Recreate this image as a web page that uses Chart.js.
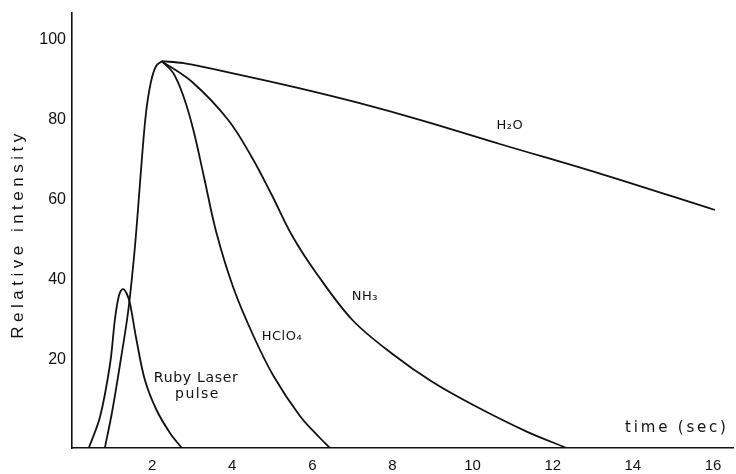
<!DOCTYPE html>
<html>
<head>
<meta charset="utf-8">
<script src="https://cdn.jsdelivr.net/npm/chart.js@4/dist/chart.umd.min.js"></script>
<style>
  html, body { margin: 0; padding: 0; background: #ffffff; }
  #wrap { width: 736px; height: 474px; }
</style>
</head>
<body>
<div id="wrap"><canvas id="c" width="736" height="474"></canvas></div>
<script>
// ---- data (time in sec, relative intensity) ----
const xTicks = [2, 4, 6, 8, 10, 12, 14, 16];
const yTicks = [20, 40, 60, 80, 100];

const rubyT = [0.42, 0.70, 0.95, 1.07, 1.17, 1.27, 1.37, 1.45, 1.61, 1.82, 2.11, 2.45, 2.74];
const rubyI = [0, 7.8, 21, 32, 38, 39.7, 38.5, 36, 27, 17, 9.5, 3.7, 0];

const riseT = [0.82, 1.00, 1.20, 1.40, 1.55, 1.65, 1.75, 1.85, 1.97, 2.10, 2.24];
const riseI = [0, 9, 21, 34, 48, 60, 73, 84, 91.5, 95.5, 96.7];

const h2oT = [2.24, 2.78, 4.19, 5.61, 7.11, 8.77, 10.68, 13.18, 16.05];
const h2oI = [96.7, 96.2, 93.3, 90.1, 86.4, 81.8, 76.0, 68.6, 59.5];

const hclo4T = [2.24, 2.53, 2.78, 3.03, 3.30, 3.60, 4.03, 4.53, 5.03, 5.69, 6.19, 6.44];
const hclo4I = [96.7, 93.7, 88, 79.5, 67.5, 54, 40, 28, 18, 8, 2.5, 0];

const nh3T = [2.24, 3.00, 3.90, 4.50, 5.00, 5.50, 6.10, 7.00, 8.00, 9.00, 10.10, 11.35, 12.35];
const nh3I = [96.7, 91.5, 82, 72.5, 63, 53, 43.7, 32, 23.5, 16.5, 10.3, 4.1, 0];

const labels = [
  { text: 'H\u2082O', t: 10.93, v: 80.5, size: 13, sp: 0.5 },
  { text: 'NH\u2083', t: 7.31, v: 37.8, size: 13, sp: 0.5 },
  { text: 'HClO\u2084', t: 5.24, v: 27.8, size: 13, sp: 0.5 },
  { text: 'Ruby Laser', t: 3.1, v: 17.5, size: 14, sp: 0.7 },
  { text: 'pulse', t: 3.13, v: 13.5, size: 14, sp: 1.4 },
  { text: 'time (sec)', t: 15.1, v: 5, size: 15, sp: 2.8 }
];

function pts(ts, vs) { return ts.map((t, i) => ({ x: t, y: vs[i] })); }

const FONT = '"DejaVu Sans", "Liberation Sans", Arial, sans-serif';
const TICKFONT = '"Liberation Sans", Arial, sans-serif';

const lineStyle = {
  borderColor: '#111111',
  borderWidth: 1.8,
  pointRadius: 0,
  fill: false,
  tension: 0.35
};

const annotate = {
  id: 'annotate',
  afterDatasetsDraw(chart) {
    const ctx = chart.ctx;
    const xs = chart.scales.x, ys = chart.scales.y;
    ctx.save();
    ctx.fillStyle = '#111111';
    ctx.textAlign = 'center';
    ctx.textBaseline = 'middle';
    labels.forEach(l => {
      ctx.font = l.size + 'px ' + FONT;
      ctx.letterSpacing = l.sp + 'px';
      ctx.fillText(l.text, xs.getPixelForValue(l.t), ys.getPixelForValue(l.v));
    });
    // y axis title
    ctx.translate(18, 234);
    ctx.rotate(-Math.PI / 2);
    ctx.font = '17px ' + TICKFONT;
    ctx.letterSpacing = '4.5px';
    ctx.fillText('Relative intensity', 0, 0);
    ctx.restore();
  }
};

new Chart(document.getElementById('c'), {
  type: 'line',
  data: {
    datasets: [
      Object.assign({ label: 'Ruby laser pulse', data: pts(rubyT, rubyI) }, lineStyle),
      Object.assign({ label: 'Rise', data: pts(riseT, riseI) }, lineStyle),
      Object.assign({ label: 'H2O', data: pts(h2oT, h2oI) }, lineStyle),
      Object.assign({ label: 'HClO4', data: pts(hclo4T, hclo4I) }, lineStyle),
      Object.assign({ label: 'NH3', data: pts(nh3T, nh3I) }, lineStyle)
    ]
  },
  options: {
    responsive: false,
    animation: false,
    events: [],
    layout: { padding: { top: 13, right: 3, left: 0, bottom: 0 } },
    plugins: { legend: { display: false }, tooltip: { enabled: false } },
    scales: {
      x: {
        type: 'linear',
        min: 0,
        max: 16.5,
        afterBuildTicks: s => { s.ticks = xTicks.map(v => ({ value: v })); },
        afterFit: s => { s.height = 26; },
        grid: { display: false, drawOnChartArea: false, drawTicks: true, tickLength: 3, tickColor: '#222' },
        border: { display: true, color: '#111111', width: 1.6 },
        ticks: { color: '#111111', font: { family: TICKFONT, size: 15 }, padding: 6, maxRotation: 0, autoSkip: false }
      },
      y: {
        type: 'linear',
        min: 0,
        max: 108.75,
        afterBuildTicks: s => { s.ticks = yTicks.map(v => ({ value: v })); },
        afterFit: s => { s.width = 72; },
        grid: { display: false, drawOnChartArea: false, drawTicks: true, tickLength: 5, tickColor: '#222' },
        border: { display: true, color: '#111111', width: 1.6 },
        ticks: { color: '#111111', font: { family: TICKFONT, size: 16 }, padding: 1, labelOffset: -8, autoSkip: false }
      }
    }
  },
  plugins: [annotate]
});
</script>
</body>
</html>
